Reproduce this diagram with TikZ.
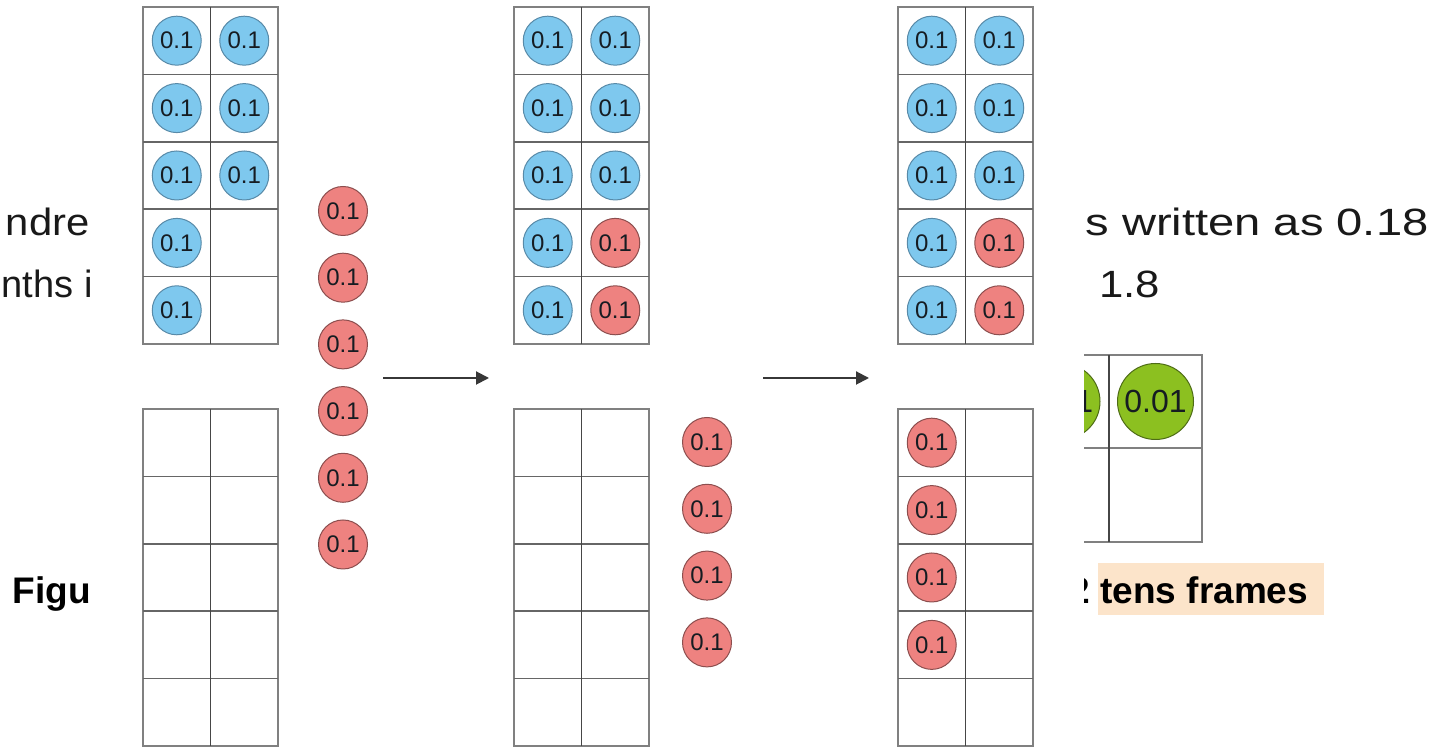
\documentclass[tikz,border=0pt]{standalone}
\usepackage{fontspec}
\setmainfont{Liberation Sans}
\usetikzlibrary{arrows.meta}

\definecolor{bluefill}{RGB}{126,200,238}
\definecolor{bluedraw}{RGB}{88,138,168}
\definecolor{redfill}{RGB}{238,130,128}
\definecolor{reddraw}{RGB}{140,78,78}
\definecolor{greenfill}{RGB}{140,192,32}
\definecolor{greendraw}{RGB}{78,108,22}
\definecolor{ctrtext}{RGB}{22,28,34}
\definecolor{gridgray}{RGB}{128,128,128}
\definecolor{griddark}{RGB}{70,70,70}
\definecolor{hlpeach}{RGB}{252,228,202}
\definecolor{arrowgray}{RGB}{55,55,55}
\definecolor{slidetext}{RGB}{25,25,25}

% one two-by-five tens frame, top-left corner at (#1,#2)
\newcommand\tensframe[2]{%
  \draw[frameout] (#1,#2) rectangle ++(135,337);
  \foreach \k in {1,...,4} \draw[framerow] (#1,#2+67.4*\k) -- ++(135,0);
  \draw[framemid] (#1+67.5,#2) -- ++(0,337);
}

\begin{document}
\begin{tikzpicture}[x=0.5pt,y=-0.5pt,
  counter/.style={circle, line width=0.5pt, minimum size=24.5pt, inner sep=0pt,
    text=ctrtext, font=\fontsize{12}{12}\selectfont},
  bluectr/.style={counter, draw=bluedraw, fill=bluefill},
  redctr/.style={counter, draw=reddraw, fill=redfill},
  greenctr/.style={counter, draw=greendraw, fill=greenfill, minimum size=38pt,
    font=\fontsize{16}{16}\selectfont},
  frameout/.style={draw=gridgray, line width=0.8pt},
  framerow/.style={draw=gridgray!80!black, line width=0.8pt},
  framemid/.style={draw=griddark, line width=0.8pt},
  gline/.style={draw=gridgray, line width=1.4pt},
  bodytext/.style={inner sep=0pt, text=slidetext, font=\fontsize{19}{19}\selectfont},
  captext/.style={inner sep=0pt, text=black, font=\fontsize{18.5}{18.5}\selectfont\bfseries},
  flow/.style={draw=arrowgray, line width=1pt, -{Triangle[length=6.5pt,width=6.5pt]}}
]
\useasboundingbox (0,0) rectangle (1442,747);
\clip (0,0) rectangle (1442,747);
\fill[white] (0,0) rectangle (1442,747);

% ---- slide underneath ----
\node[bodytext, anchor=base east] (l1) at (90,236) {\scalebox{1.1}[1]{ndre}};
\node[bodytext, anchor=base east] (l2) at (93,298) {nths i};
\node[bodytext, anchor=base west] (r1) at (1085,236) {\scalebox{1.24}[1]{s written as 0.18}};
\node[bodytext, anchor=base west] (r2) at (1099,298) {\scalebox{1.15}[1]{1.8}};
\node[captext, anchor=base east] (fig) at (91,604) {Figu};
\node[captext, anchor=base east] (two) at (1090,604) {2};
\fill[hlpeach] (1098,563) rectangle (1324,615);
\node[captext, anchor=base west] (cap) at (1100,604) {tens frames};

% slide tens frame with hundredths counters
\draw[gline] (1016,355) rectangle (1202,542);
\draw[gline] (1016,448) -- (1202,448);
\draw[gline, draw=griddark] (1109,355) -- (1109,542);
\node[greenctr] (g1) at (1062,401.5) {0.01};
\node[greenctr] (g2) at (1155.5,401.5) {0.01};

% ---- panel on top ----
\fill[white] (95,0) rectangle (1084,747);

% step 1
\tensframe{143}{7}
\tensframe{143}{409}
\foreach \r in {1,...,5}
  \node[bluectr] (a-t1-\r) at (176.75,{7+33.7+67.4*(\r-1)}) {0.1};
\foreach \r in {1,...,3}
  \node[bluectr] (a-t2-\r) at (244.25,{7+33.7+67.4*(\r-1)}) {0.1};
\foreach \k in {1,...,6}
  \node[redctr] (a-l-\k) at (343,{211+66.7*(\k-1)}) {0.1};

% step 2
\tensframe{514}{7}
\tensframe{514}{409}
\foreach \r in {1,...,5}
  \node[bluectr] (b-t1-\r) at (547.75,{7+33.7+67.4*(\r-1)}) {0.1};
\foreach \r in {1,...,3}
  \node[bluectr] (b-t2-\r) at (615.25,{7+33.7+67.4*(\r-1)}) {0.1};
\foreach \r in {4,5}
  \node[redctr] (b-t2-\r) at (615.25,{7+33.7+67.4*(\r-1)}) {0.1};
\foreach \k in {1,...,4}
  \node[redctr] (b-l-\k) at (707,{442+66.8*(\k-1)}) {0.1};

% step 3
\tensframe{898}{7}
\tensframe{898}{409}
\foreach \r in {1,...,5}
  \node[bluectr] (c-t1-\r) at (931.75,{7+33.7+67.4*(\r-1)}) {0.1};
\foreach \r in {1,...,3}
  \node[bluectr] (c-t2-\r) at (999.25,{7+33.7+67.4*(\r-1)}) {0.1};
\foreach \r in {4,5}
  \node[redctr] (c-t2-\r) at (999.25,{7+33.7+67.4*(\r-1)}) {0.1};
\foreach \r in {1,...,4}
  \node[redctr] (c-b1-\r) at (931.75,{409+33.7+67.4*(\r-1)}) {0.1};

% arrows between steps
\coordinate (s1) at (383,378);
\coordinate (e1) at (489,378);
\coordinate (s2) at (763,378);
\coordinate (e2) at (869,378);
\draw[flow] (s1) -- (e1);
\draw[flow] (s2) -- (e2);
\end{tikzpicture}
\end{document}
